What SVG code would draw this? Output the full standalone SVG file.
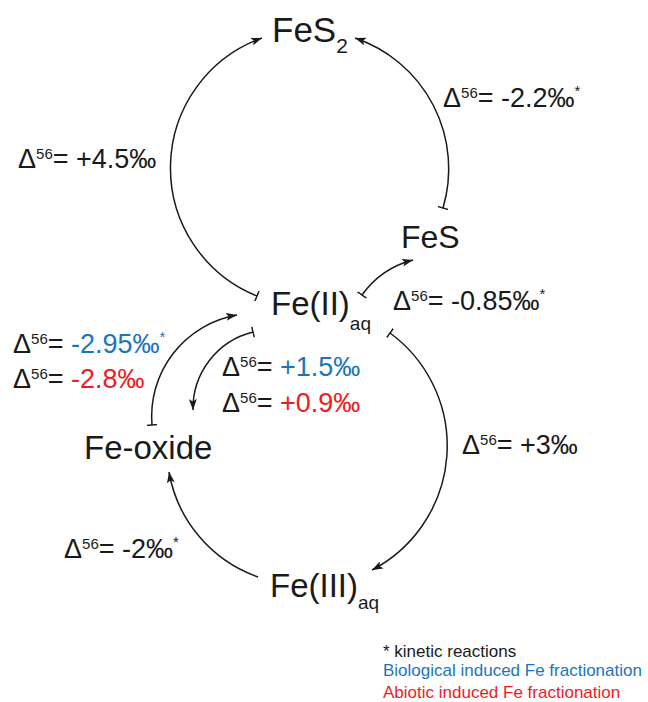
<svg xmlns="http://www.w3.org/2000/svg" width="648" height="702" viewBox="0 0 648 702">
<style>
text{font-family:"Liberation Sans",Arial,sans-serif;fill:#1a1a1a}
.node{font-size:33px}
.sub{font-size:19px}
.lbl{font-size:27px}
.sup{font-size:15px}
.blue{fill:#1b75bc}
.red{fill:#ed1c24}
.leg{font-size:17px}
.conn path{fill:none;stroke:#1a1a1a;stroke-width:1.5}
</style>
<defs>
<marker id="arrow" markerUnits="userSpaceOnUse" markerWidth="12" markerHeight="8" refX="11" refY="4" orient="auto" viewBox="0 0 12 8"><path d="M0,0 L11,4 L0,8 L2.5,4 z" fill="#1a1a1a"/></marker>
<marker id="tee" markerUnits="userSpaceOnUse" markerWidth="2" markerHeight="11" refX="1" refY="5.5" orient="auto" viewBox="0 0 2 11"><line x1="1" y1="0" x2="1" y2="11" stroke="#1a1a1a" stroke-width="1.5"/></marker>
</defs>
<g id="connectors" class="conn">
<path d="M257,296 A138,138 0 0 1 262,38" marker-start="url(#tee)" marker-end="url(#arrow)"/>
<path d="M443,208 A138,138 0 0 0 355,38" marker-start="url(#tee)" marker-end="url(#arrow)"/>
<path d="M362,295 A90,90 0 0 1 413,260" marker-start="url(#tee)" marker-end="url(#arrow)"/>
<path d="M390,333 A140,140 0 0 1 372,570" marker-start="url(#tee)" marker-end="url(#arrow)"/>
<path d="M258,577 A136,136 0 0 1 169,472" marker-end="url(#arrow)"/>
<path d="M152,425 A103,103 0 0 1 237,315" marker-start="url(#tee)" marker-end="url(#arrow)"/>
<path d="M253,332 A79,79 0 0 0 193,410" marker-start="url(#tee)" marker-end="url(#arrow)"/>
</g>
<g id="FeS2"><text class="node" x="272" y="42" style="font-size:35px">FeS<tspan class="sub" dy="11" style="font-size:21px">2</tspan></text></g>
<g id="FeS"><text class="node" x="401" y="248" style="font-size:32px">FeS</text></g>
<g id="FeII"><text class="node" x="271" y="315">Fe(II)<tspan class="sub" dy="15">aq</tspan></text></g>
<g id="FeOxide"><text class="node" x="84" y="459">Fe-oxide</text></g>
<g id="FeIII"><text class="node" x="270" y="597">Fe(III)<tspan class="sub" dy="12">aq</tspan></text></g>
<g id="labels">
<text class="lbl" x="18" y="168">Δ<tspan class="sup" dy="-9">56</tspan><tspan dy="9">= +4.5‰</tspan></text>
<text class="lbl" x="443" y="107">Δ<tspan class="sup" dy="-9">56</tspan><tspan dy="9">= -2.2‰</tspan><tspan class="sup" dy="-11">*</tspan></text>
<text class="lbl" x="393" y="310">Δ<tspan class="sup" dy="-9">56</tspan><tspan dy="9">= -0.85‰</tspan><tspan class="sup" dy="-11">*</tspan></text>
<text class="lbl" x="13" y="353">Δ<tspan class="sup" dy="-9">56</tspan><tspan dy="9">= </tspan><tspan class="blue">-2.95‰</tspan><tspan class="sup blue" dy="-11">*</tspan></text>
<text class="lbl" x="13" y="388">Δ<tspan class="sup" dy="-9">56</tspan><tspan dy="9">= </tspan><tspan class="red">-2.8‰</tspan></text>
<text class="lbl" x="222" y="376">Δ<tspan class="sup" dy="-9">56</tspan><tspan dy="9">= </tspan><tspan class="blue">+1.5‰</tspan></text>
<text class="lbl" x="222" y="412">Δ<tspan class="sup" dy="-9">56</tspan><tspan dy="9">= </tspan><tspan class="red">+0.9‰</tspan></text>
<text class="lbl" x="462" y="454">Δ<tspan class="sup" dy="-9">56</tspan><tspan dy="9">= +3‰</tspan></text>
<text class="lbl" x="64" y="558">Δ<tspan class="sup" dy="-9">56</tspan><tspan dy="9">= -2‰</tspan><tspan class="sup" dy="-11">*</tspan></text>
</g>
<g id="legend">
<text class="leg" x="383" y="657">* kinetic reactions</text>
<text class="leg blue" x="383" y="676">Biological induced Fe fractionation</text>
<text class="leg red" x="383" y="698">Abiotic induced Fe fractionation</text>
</g>
</svg>
